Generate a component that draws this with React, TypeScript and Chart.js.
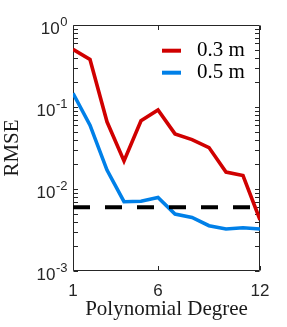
import React, { useEffect, useRef } from 'react';
import { Chart, registerables } from 'chart.js';

Chart.register(...registerables);

const degrees = [1, 2, 3, 4, 5, 6, 7, 8, 9, 10, 11, 12];
const rmse03 = [0.505, 0.38, 0.066, 0.022, 0.068, 0.092, 0.047, 0.04, 0.032, 0.0161, 0.0146, 0.0042];
const rmse05 = [0.147, 0.06, 0.017, 0.007, 0.0071, 0.0079, 0.00495, 0.0045, 0.00357, 0.00325, 0.00337, 0.00325];
const threshold = 0.006;
const seriesLabels = ['0.3 m', '0.5 m'];
const seriesColors = ['rgb(208,0,0)', 'rgb(0,128,232)'];
const xTicks = [1, 6, 12];
const yTicks = [0.001, 0.01, 0.1, 1];
const yTickBase = '10';
const xTitle = 'Polynomial Degree';
const yTitle = 'RMSE';

export default function App() {
  const ref = useRef<HTMLCanvasElement>(null);

  useEffect(() => {
    const canvas = ref.current;
    if (!canvas) return;
    const axisColor = '#262626';
    const sansFamily = "'Liberation Sans', Arial, sans-serif";
    const tickFont = { family: sansFamily, size: 17 };
    const serif = "'Liberation Serif', 'Times New Roman', serif";

    const boxPlugin = {
      id: 'matlabBox',
      beforeDatasetsDraw(chart: any) {
        const { ctx, chartArea: a, scales } = chart;
        const xs = scales.x;
        const ys = scales.y;
        const L = 4.5;
        const l = Math.round(a.left) + 0.5;
        const r = Math.round(a.right) - 0.5;
        const t = Math.round(a.top) + 0.5;
        const b = Math.round(a.bottom) - 0.5;
        ctx.save();
        ctx.strokeStyle = axisColor;
        ctx.lineWidth = 1;
        ctx.beginPath();
        for (const v of xTicks) {
          const px = Math.round(xs.getPixelForValue(v)) + 0.5;
          ctx.moveTo(px, b);
          ctx.lineTo(px, b - L);
          ctx.moveTo(px, t);
          ctx.lineTo(px, t + L);
        }
        for (let i = 0; i < yTicks.length - 1; i++) {
          for (let m = 1; m <= 9; m++) {
            const py = Math.round(ys.getPixelForValue(yTicks[i] * m)) + 0.5;
            ctx.moveTo(l, py);
            ctx.lineTo(l + L, py);
            ctx.moveTo(r, py);
            ctx.lineTo(r - L, py);
          }
        }
        ctx.rect(l, t, r - l, b - t);
        ctx.stroke();
        ctx.restore();
      },
      afterDraw(chart: any) {
        // y tick labels as 10 with superscript exponent
        const { ctx, chartArea: a, scales } = chart;
        const ys = scales.y;
        ctx.save();
        ctx.fillStyle = axisColor;
        ctx.textAlign = 'left';
        ctx.textBaseline = 'alphabetic';
        for (const tk of ys.ticks) {
          const v = tk.value;
          const py = ys.getPixelForValue(v);
          const exp = String(Math.round(Math.log10(v)));
          ctx.font = `13px ${sansFamily}`;
          const wSup = ctx.measureText(exp).width;
          ctx.font = `17px ${sansFamily}`;
          const wMain = ctx.measureText(yTickBase).width;
          const xr = a.left - 5.5;
          ctx.fillText(yTickBase, xr - wSup - wMain - 0.5, py + 9);
          ctx.font = `13px ${sansFamily}`;
          ctx.fillText(exp, xr - wSup, py + 1);
        }
        ctx.restore();
      },
    };

    const legendPlugin = {
      id: 'innerLegend',
      afterDraw(chart: any) {
        const { ctx, chartArea: a } = chart;
        const items = chart.data.datasets.filter((d: any) => seriesLabels.includes(d.label));
        ctx.save();
        items.forEach((d: any, i: number) => {
          const y = a.top + 25.7 + i * 22;
          const x0 = a.right - 98;
          ctx.strokeStyle = d.borderColor;
          ctx.lineWidth = 4;
          ctx.beginPath();
          ctx.moveTo(x0, y);
          ctx.lineTo(x0 + 19, y);
          ctx.stroke();
          ctx.fillStyle = '#000';
          ctx.font = `21px ${serif}`;
          ctx.textAlign = 'left';
          ctx.textBaseline = 'middle';
          ctx.fillText(d.label, x0 + 35, y);
        });
        ctx.restore();
      },
    };

    const chart = new Chart(canvas, {
      type: 'line',
      data: {
        datasets: [
          {
            label: seriesLabels[0],
            data: degrees.map((d, i) => ({ x: d, y: rmse03[i] })),
            borderColor: seriesColors[0],
            backgroundColor: seriesColors[0],
            borderWidth: 3.6,
            pointRadius: 0,
            tension: 0,
            fill: false,
            order: 1,
          },
          {
            label: seriesLabels[1],
            data: degrees.map((d, i) => ({ x: d, y: rmse05[i] })),
            borderColor: seriesColors[1],
            backgroundColor: seriesColors[1],
            borderWidth: 3.6,
            pointRadius: 0,
            tension: 0,
            fill: false,
            order: 2,
          },
          {
            label: 'threshold',
            data: [
              { x: degrees[0], y: threshold },
              { x: degrees[degrees.length - 1], y: threshold },
            ],
            borderColor: '#000',
            borderWidth: 4,
            borderDash: [17, 15],
            pointRadius: 0,
            fill: false,
            order: 0,
          },
        ],
      },
      options: {
        responsive: false,
        maintainAspectRatio: false,
        devicePixelRatio: 1,
        animation: false,
        layout: { padding: { left: 0, top: 25, right: 27, bottom: 0 } },
        plugins: { legend: { display: false }, tooltip: { enabled: false } },
        scales: {
          x: {
            type: 'linear',
            min: 1,
            max: 12,
            grid: { display: false, drawTicks: false },
            border: { display: false },
            afterBuildTicks: (s: any) => {
              s.ticks = xTicks.map((v) => ({ value: v }));
            },
            afterFit: (s: any) => {
              s.height = 56;
            },
            ticks: {
              padding: 10,
              color: axisColor,
              font: tickFont,
              maxRotation: 0,
              callback: (v: any) => String(v),
            },
            title: {
              display: true,
              text: xTitle,
              color: '#1a1a1a',
              font: { family: serif, size: 21 },
              padding: { top: 0, bottom: 5 },
            },
          },
          y: {
            type: 'logarithmic',
            min: 0.001,
            max: 1,
            grid: { display: false, drawTicks: false },
            border: { display: false },
            afterBuildTicks: (s: any) => {
              s.ticks = yTicks.map((v) => ({ value: v, major: true }));
            },
            afterFit: (s: any) => {
              s.width = 73;
            },
            ticks: {
              display: false,
              padding: 6,
              color: axisColor,
              font: tickFont,
              callback: (v: any) => yTickBase + '^' + String(Math.round(Math.log10(Number(v)))),
            },
            title: {
              display: true,
              text: yTitle,
              color: '#1a1a1a',
              font: { family: serif, size: 21 },
              padding: { top: 0, bottom: 0 },
            },
          },
        },
      },
      plugins: [boxPlugin, legendPlugin],
    } as any);

    return () => chart.destroy();
  }, []);

  return (
    <div style={{ position: 'fixed', left: 0, top: 0, width: 287, height: 327, background: '#fff' }}>
      <canvas ref={ref} width={287} height={327} style={{ display: 'block', width: 287, height: 327 }} />
    </div>
  );
}
